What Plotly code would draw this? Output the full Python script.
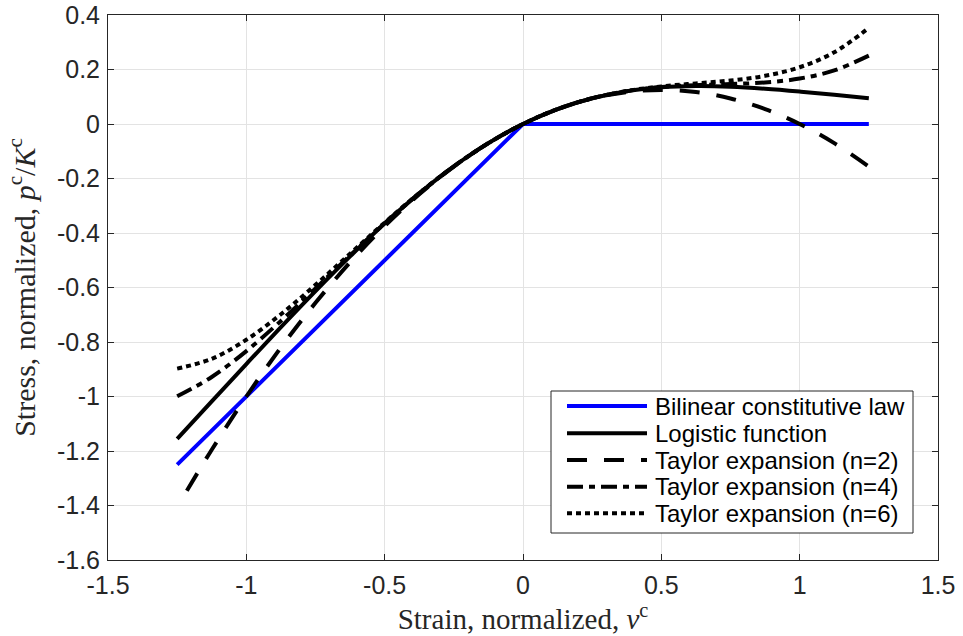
import plotly.graph_objects as go

# Strain (normalized) sample points
strain = [-1.25, -1.125, -1.0, -0.875, -0.75, -0.625, -0.5, -0.375, -0.25, -0.125,
          0.0, 0.125, 0.25, 0.375, 0.5, 0.625, 0.75, 0.875, 1.0, 1.125, 1.25]
# the n=2 curve is only visible from about -1.215
strain_t2 = [-1.215, -1.125, -1.0, -0.875, -0.75, -0.625, -0.5, -0.375, -0.25, -0.125,
             0.0, 0.125, 0.25, 0.375, 0.5, 0.625, 0.75, 0.875, 1.0, 1.125, 1.25]

# Bilinear constitutive law
bilinear_x = [-1.25, 0.0, 1.25]
bilinear_y = [-1.25, 0.0, 0.0]

# Logistic function
logistic = [-1.1552, -1.0177, -0.8808, -0.7455, -0.6132, -0.4858, -0.3655, -0.2547, -0.1556, -0.0703,
            0.0, 0.0547, 0.0944, 0.1203, 0.1345, 0.1392, 0.1368, 0.1295, 0.1192, 0.1073, 0.0948]

# Taylor expansions
taylor2 = [-1.3456, -1.1953, -1.0, -0.8203, -0.6563, -0.5078, -0.375, -0.2578, -0.1563, -0.0703,
           0.0, 0.0547, 0.0938, 0.1172, 0.125, 0.1172, 0.0938, 0.0547, 0.0, -0.0703, -0.1563]
taylor4 = [-0.9994, -0.9283, -0.8333, -0.7226, -0.6035, -0.4824, -0.3646, -0.2545, -0.1556, -0.0703,
           0.0, 0.0547, 0.0944, 0.1205, 0.1354, 0.1426, 0.1465, 0.1524, 0.1667, 0.1967, 0.2507]
taylor6 = [-0.8976, -0.8616, -0.7917, -0.6982, -0.5903, -0.4760, -0.3620, -0.2537, -0.1554, -0.0703,
           0.0, 0.0547, 0.0946, 0.1213, 0.1380, 0.1490, 0.1597, 0.1768, 0.2083, 0.2634, 0.3524]

series_names = ["Bilinear constitutive law", "Logistic function", "Taylor expansion (n=2)",
                "Taylor expansion (n=4)", "Taylor expansion (n=6)"]

x_ticks = [-1.5, -1.0, -0.5, 0.0, 0.5, 1.0, 1.5]
x_tick_text = ["-1.5", "-1", "-0.5", "0", "0.5", "1", "1.5"]
y_ticks = [-1.6, -1.4, -1.2, -1.0, -0.8, -0.6, -0.4, -0.2, 0.0, 0.2, 0.4]
y_tick_text = ["-1.6", "-1.4", "-1.2", "-1", "-0.8", "-0.6", "-0.4", "-0.2", "0", "0.2", "0.4"]

LW = 4
styles = [
    dict(color="#0000ff", width=LW),
    dict(color="black", width=LW, shape="spline"),
    dict(color="black", width=LW, shape="spline", dash="20px,17px"),
    dict(color="black", width=LW, shape="spline", dash="16px,6px,6px,6px"),
    dict(color="black", width=LW, shape="spline", dash="5px,4px"),
]

fig = go.Figure()
fig.add_trace(go.Scatter(x=bilinear_x, y=bilinear_y, mode="lines", name=series_names[0], line=styles[0]))
fig.add_trace(go.Scatter(x=strain, y=logistic, mode="lines", name=series_names[1], line=styles[1]))
fig.add_trace(go.Scatter(x=strain_t2, y=taylor2, mode="lines", name=series_names[2], line=styles[2]))
fig.add_trace(go.Scatter(x=strain, y=taylor4, mode="lines", name=series_names[3], line=styles[3]))
fig.add_trace(go.Scatter(x=strain, y=taylor6, mode="lines", name=series_names[4], line=styles[4]))

# Plot area in pixels: x 108..938, y 15..560
L, R, T, B = 108, 938, 15, 560
W, H = R - L, B - T
def px(xp):
    return (xp - L) / W
def py(yp):
    return (B - yp) / H

# Manual legend box (MATLAB-style)
shapes = [dict(type="rect", xref="paper", yref="paper",
               x0=px(551), x1=px(913), y0=py(533), y1=py(391),
               line=dict(color="#262626", width=1), fillcolor="white", layer="above")]
annotations = []
row_y = [406, 433.3, 460, 486.7, 513.3]
for name, st, ry in zip(series_names, styles, row_y):
    ln = dict(color=st["color"], width=st["width"])
    if "dash" in st:
        ln["dash"] = st["dash"]
    shapes.append(dict(type="line", xref="paper", yref="paper",
                       x0=px(567), x1=px(647), y0=py(ry), y1=py(ry), line=ln, layer="above"))
    annotations.append(dict(text=name, xref="paper", yref="paper", x=px(653), y=py(ry),
                            xanchor="left", yanchor="middle", showarrow=False,
                            font=dict(family="Liberation Sans, Arial, sans-serif", size=24, color="black")))

axis_common = dict(
    showgrid=True, gridcolor="#e3e3e3", gridwidth=1,
    showline=True, linecolor="#262626", linewidth=1, mirror="ticks",
    ticks="inside", ticklen=6, tickcolor="#262626",
    tickfont=dict(family="Liberation Sans, Arial, sans-serif", size=25, color="#262626"),
    zeroline=False, automargin=False,
)

fig.update_layout(
    template="none",
    width=963, height=636,
    margin=dict(l=L, r=963 - R, t=T, b=636 - B, pad=0),
    paper_bgcolor="white", plot_bgcolor="white",
    showlegend=False,
    shapes=shapes, annotations=annotations,
    xaxis=dict(range=[-1.5, 1.5], tickvals=x_ticks, ticktext=x_tick_text, ticklabelstandoff=3,
               title=dict(text="Strain, normalized, <i>v</i><sup>c</sup>",
                          font=dict(family="Liberation Serif, Times New Roman, serif", size=29, color="#262626"),
                          standoff=5),
               **axis_common),
    yaxis=dict(range=[-1.6, 0.4], tickvals=y_ticks, ticktext=y_tick_text, ticklabelstandoff=2,
               title=dict(text="Stress, normalized, <i>p</i><sup>c</sup>/<i>K</i><sup>c</sup>",
                          font=dict(family="Liberation Serif, Times New Roman, serif", size=30, color="#262626"),
                          standoff=12),
               **axis_common),
)

fig.write_html("out.html", config={"displayModeBar": False},
               post_script="document.body.style.margin='0px';")
